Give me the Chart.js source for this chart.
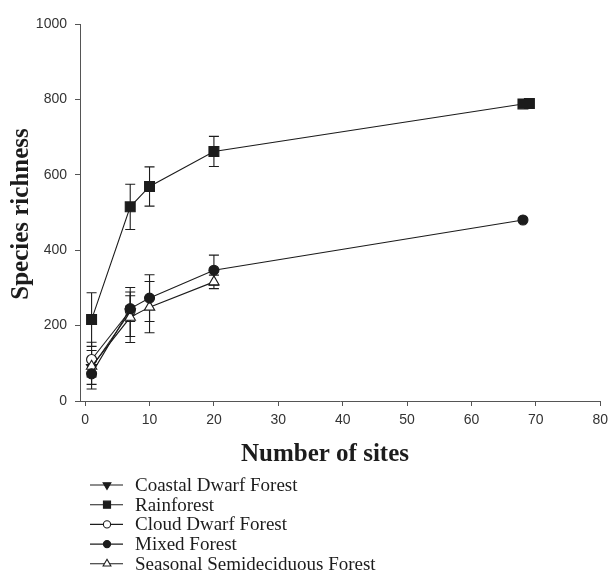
<!DOCTYPE html>
<html>
<head>
<meta charset="utf-8">
<script src="https://cdn.jsdelivr.net/npm/chart.js@4/dist/chart.umd.min.js"></script>
<style>
  html, body { margin: 0; padding: 0; background: #fff; }
  #wrap { width: 614px; height: 572px; }
</style>
</head>
<body>
<div id="wrap"><canvas id="c" width="614" height="572"></canvas></div>
<script>
// Species accumulation by number of sampled sites, per forest type
const xTickValues = [0, 10, 20, 30, 40, 50, 60, 70, 80];
const yTickValues = [0, 200, 400, 600, 800, 1000];

const seriesNames = [
  'Coastal Dwarf Forest',
  'Rainforest',
  'Cloud Dwarf Forest',
  'Mixed Forest',
  'Seasonal Semideciduous Forest'
];

const coastalSites = [1, 7];
const coastalRichness = [89, 236];
const coastalSD = [45, 65];

const rainSites = [1, 7, 10, 20, 68, 69];
const rainRichness = [216, 515, 569, 662, 788, 789];
const rainSD = [71, 60, 52, 40, 0, 0];

const cloudSites = [1, 7];
const cloudRichness = [110, 240];
const cloudSD = [46, 12];

const mixedSites = [1, 7, 10, 20, 68];
const mixedRichness = [72, 245, 273, 347, 480];
const mixedSD = [40, 34, 62, 40, 0];

const seasonalSites = [1, 7, 10, 20];
const seasonalRichness = [92, 222, 249, 316];
const seasonalSD = [15, 67, 68, 18];

const INK = '#1c1c1c';
const AXIS = '#555';

function pts(xs, ys) { return xs.map((x, i) => ({ x: x, y: ys[i] })); }

const styles = [
  { pointStyle: 'triangle', rotation: 180, radius: 6, fill: INK, legendRadius: 4.5 },
  { pointStyle: 'rect', rotation: 0, radius: 7, fill: INK, legendRadius: 5 },
  { pointStyle: 'circle', rotation: 0, radius: 5, fill: '#fff', legendRadius: 3.6 },
  { pointStyle: 'circle', rotation: 0, radius: 5, fill: INK, legendRadius: 3.6 },
  { pointStyle: 'triangle', rotation: 0, radius: 6, fill: '#fff', legendRadius: 4.5 }
];

const seriesData = [
  pts(coastalSites, coastalRichness),
  pts(rainSites, rainRichness),
  pts(cloudSites, cloudRichness),
  pts(mixedSites, mixedRichness),
  pts(seasonalSites, seasonalRichness)
];
const seriesSD = [coastalSD, rainSD, cloudSD, mixedSD, seasonalSD];
// drawing order: filled circles end up on top of the open markers
const drawOrder = [3, 2, 4, 0, 1];

const datasets = seriesNames.map((name, i) => ({
  label: name,
  data: seriesData[i],
  order: drawOrder[i],
  borderColor: INK,
  borderWidth: 1.1,
  tension: 0,
  fill: false,
  pointStyle: styles[i].pointStyle,
  rotation: styles[i].rotation,
  pointRadius: styles[i].radius,
  pointHoverRadius: styles[i].radius,
  pointBackgroundColor: styles[i].fill,
  pointBorderColor: INK,
  pointBorderWidth: 1.1
}));

// vertical standard-deviation bars with caps
const errorBars = {
  id: 'errorBars',
  beforeDatasetsDraw(chart) {
    const ctx = chart.ctx, xs = chart.scales.x, ys = chart.scales.y;
    ctx.save();
    ctx.strokeStyle = INK;
    ctx.lineWidth = 1.1;
    seriesData.forEach((data, i) => {
      data.forEach((p, j) => {
        const sd = seriesSD[i][j];
        if (!sd) return;
        const px = xs.getPixelForValue(p.x);
        const top = ys.getPixelForValue(p.y + sd);
        const bot = ys.getPixelForValue(p.y - sd);
        ctx.beginPath();
        ctx.moveTo(px, top); ctx.lineTo(px, bot);
        ctx.moveTo(px - 5, top); ctx.lineTo(px + 5, top);
        ctx.moveTo(px - 5, bot); ctx.lineTo(px + 5, bot);
        ctx.stroke();
      });
    });
    ctx.restore();
  }
};

// axis titles and the stacked legend underneath the plot
const annotations = {
  id: 'annotations',
  afterDraw(chart) {
    const ctx = chart.ctx;
    ctx.save();
    ctx.fillStyle = INK;
    ctx.font = 'bold 25px "Liberation Serif", "Times New Roman", serif';
    ctx.textAlign = 'center';
    ctx.textBaseline = 'middle';
    ctx.fillText('Number of sites', 325, 455);
    ctx.save();
    ctx.translate(22, 214);
    ctx.rotate(-Math.PI / 2);
    ctx.fillText('Species richness', 0, 0);
    ctx.restore();

    const rowY = [485, 504.7, 524.4, 544.1, 563.8];
    ctx.font = '19px "Liberation Serif", "Times New Roman", serif';
    ctx.textAlign = 'left';
    seriesNames.forEach((name, i) => {
      const y = rowY[i];
      ctx.strokeStyle = INK;
      ctx.lineWidth = 1.1;
      ctx.beginPath();
      ctx.moveTo(90, y); ctx.lineTo(123, y);
      ctx.stroke();
      ctx.fillStyle = styles[i].fill;
      Chart.helpers.drawPoint(ctx, {
        pointStyle: styles[i].pointStyle,
        rotation: styles[i].rotation,
        radius: styles[i].legendRadius,
        borderWidth: 1.1
      }, 107, y);
      ctx.fillStyle = INK;
      ctx.fillText(name, 135, y + 1);
    });
    ctx.restore();
  }
};

const tickFont = { family: '"Liberation Sans", Arial, sans-serif', size: 14 };

new Chart(document.getElementById('c'), {
  type: 'line',
  data: { datasets: datasets },
  options: {
    responsive: false,
    animation: false,
    devicePixelRatio: 1,
    layout: { padding: { top: 24, right: 9, left: 0, bottom: 0 } },
    plugins: { legend: { display: false }, tooltip: { enabled: false } },
    scales: {
      x: {
        type: 'linear',
        min: -0.8,
        max: 80,
        afterBuildTicks: s => { s.ticks = xTickValues.map(v => ({ value: v })); },
        afterFit: s => { s.height = 171; },
        grid: { display: true, drawOnChartArea: false, drawTicks: true, tickLength: 5, color: AXIS },
        border: { display: true, color: AXIS, width: 1 },
        ticks: { font: tickFont, color: '#333', padding: 6, maxRotation: 0, autoSkip: false,
                 callback: v => String(v) }
      },
      y: {
        min: 0,
        max: 1000,
        afterBuildTicks: s => { s.ticks = yTickValues.map(v => ({ value: v })); },
        afterFit: s => { s.width = 80; },
        grid: { display: true, drawOnChartArea: false, drawTicks: true, tickLength: 5, color: AXIS },
        border: { display: true, color: AXIS, width: 1 },
        ticks: { font: tickFont, color: '#333', padding: 8, callback: v => String(v) }
      }
    }
  },
  plugins: [errorBars, annotations]
});
</script>
</body>
</html>
